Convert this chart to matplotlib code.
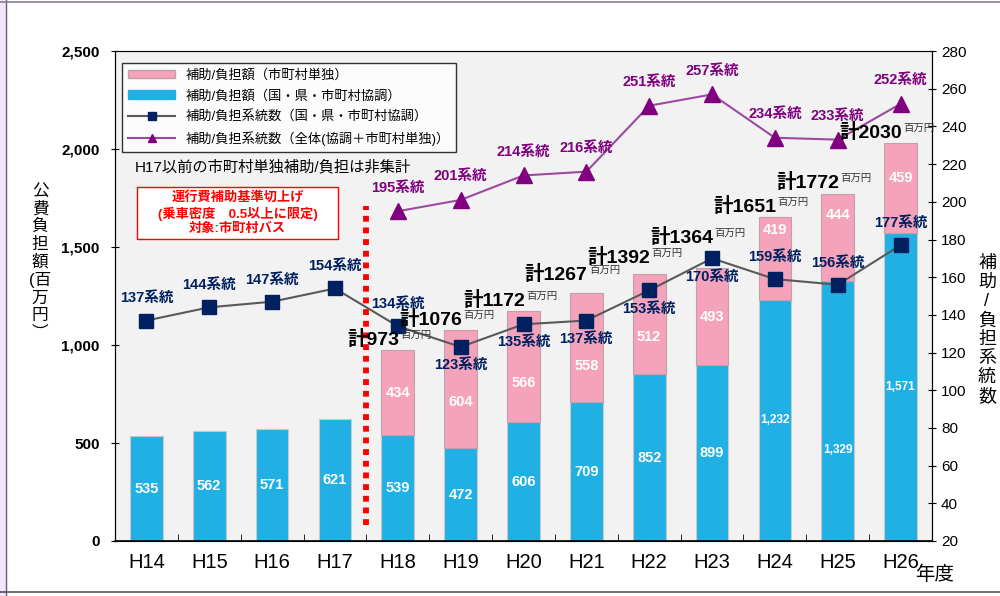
import matplotlib.pyplot as plt
import numpy as np
from matplotlib.lines import Line2D
from matplotlib.patches import Patch, Rectangle

plt.rcParams['font.family'] = ['Liberation Sans', 'Noto Sans CJK JP']

years = ['H14', 'H15', 'H16', 'H17', 'H18', 'H19', 'H20', 'H21', 'H22', 'H23', 'H24', 'H25', 'H26']
# 補助/負担額 (百万円)
kyocho = [535, 562, 571, 621, 539, 472, 606, 709, 852, 899, 1232, 1329, 1571]
tandoku = [0, 0, 0, 0, 434, 604, 566, 558, 512, 493, 419, 444, 459]
# 計 labels as printed (H18-H26)
total_labels = [973, 1076, 1172, 1267, 1392, 1364, 1651, 1772, 2030]
# 系統数
kyocho_routes = [137, 144, 147, 154, 134, 123, 135, 137, 153, 170, 159, 156, 177]
all_routes = [195, 201, 214, 216, 251, 257, 234, 233, 252]

BLUE = '#20b0e3'
PINK = '#f5a3ba'
NAVY = '#002060'
PURPLE = '#800080'

fig = plt.figure(figsize=(10, 5.96), dpi=100)
fig.patch.set_facecolor('white')
# frame decorations
fig.add_artist(Rectangle((0, 0), 0.006, 1, transform=fig.transFigure, color='#f1e6fa', zorder=0))
fig.add_artist(Line2D([0.006, 0.006], [0, 1], transform=fig.transFigure, color='#6e5a80', lw=1))
fig.add_artist(Line2D([0, 1], [0.996, 0.996], transform=fig.transFigure, color='#8a7a9a', lw=1.2))
fig.add_artist(Line2D([0, 1], [0.007, 0.007], transform=fig.transFigure, color='#555555', lw=1.2))

ax = fig.add_axes([0.115, 0.0923, 0.817, 0.822])
ax.set_facecolor('#f2f2f2')
x = np.arange(len(years))
w = 0.52

ax.bar(x, kyocho, w, color=BLUE, edgecolor='#c8c8c8', lw=0.8, zorder=2)
ax.bar(x[4:], tandoku[4:], w, bottom=kyocho[4:], color=PINK, edgecolor='#c0a0aa', lw=0.8, zorder=2)

ax.set_xlim(-0.5, len(years) - 0.5)
ax.set_ylim(0, 2500)
ax.set_yticks(np.arange(0, 2501, 500))
ax.set_yticklabels([f'{v:,}' for v in range(0, 2501, 500)], fontsize=11, fontweight='bold')
ax.set_xticks(x)
ax.set_xticklabels(years, fontsize=14.5, family=['Liberation Sans Narrow', 'Liberation Sans'])
ax.set_xticks(x[:-1] + 0.5, minor=True)
ax.tick_params(axis='x', which='major', length=0, pad=9)
ax.tick_params(axis='x', which='minor', direction='in', length=5)
ax.tick_params(axis='y', direction='inout', length=6, pad=8)
ax.spines['top'].set_color('#808080')
ax.spines['bottom'].set_linewidth(1.2)

# red dotted separator
ax.vlines(3.5, 80, 1710, color='red', lw=4.2, linestyles=(0, (1, 1)), zorder=3)

ax2 = ax.twinx()
ax2.set_ylim(20, 280)
ax2.set_yticks(np.arange(20, 281, 20))
ax2.tick_params(axis='y', direction='inout', length=6, labelsize=11)

ax2.plot(x, kyocho_routes, color='#595959', lw=1.5, marker='s', ms=10,
         mfc=NAVY, mec=NAVY, zorder=4)
ax2.plot(x[4:], all_routes, color='#9c4a9f', lw=1.5, marker='^', ms=11,
         mfc=PURPLE, mec=PURPLE, zorder=4)

# bar value labels (placed inside segments, nudged away from markers)
blue_frac = {11: 0.35}
pink_frac = {5: 0.39, 6: 0.35, 7: 0.33, 8: 0.37, 10: 0.85, 11: 0.75, 12: 0.61}
for i in x:
    v = kyocho[i]
    ax2.text(i, v * blue_frac.get(i, 0.5), f'{v:,}', transform=ax.transData,
             ha='center', va='center', color='white', fontweight='bold',
             fontsize=10.5 if v < 1000 else 8.5, zorder=6)
    if tandoku[i]:
        ax2.text(i, v + tandoku[i] * pink_frac.get(i, 0.5), str(tandoku[i]),
                 transform=ax.transData, ha='center', va='center', color='white',
                 fontweight='bold', fontsize=10.5, zorder=6)

# totals (H23 label sits higher, clear of the marker)
lift = {9: 14, 7: 5, 8: 4}
for k, t in enumerate(total_labels):
    i = k + 4
    top = kyocho[i] + tandoku[i]
    dy = 4 + lift.get(i, 0)
    ax2.annotate(f'計{t}', xy=(i + 0.02, top), xycoords=ax.transData, xytext=(0, dy),
                 textcoords='offset points', ha='right', va='baseline',
                 fontsize=14, fontweight='bold', color='black', zorder=7)
    ax2.annotate('百万円', xy=(i + 0.04, top), xycoords=ax.transData, xytext=(0, dy + 5),
                 textcoords='offset points', ha='left', va='baseline',
                 fontsize=7.5, color='#333333', zorder=7)

# route count labels
below = {5, 6, 7, 8, 9}
for i, r in zip(x, kyocho_routes):
    dy = -13 if i in below else 16
    ax2.annotate(f'{r}系統', xy=(i, r), xytext=(0, dy), textcoords='offset points',
                 ha='center', va='center', fontsize=10.5, fontweight='bold', color=NAVY, zorder=7)
for i, r in zip(x[4:], all_routes):
    ax2.annotate(f'{r}系統', xy=(i, r), xytext=(0, 17), textcoords='offset points',
                 ha='center', va='center', fontsize=10.5, fontweight='bold', color=PURPLE, zorder=7)

# legend
handles = [
    Patch(facecolor=PINK, edgecolor='#c0a0aa'),
    Patch(facecolor=BLUE, edgecolor=BLUE),
    Line2D([], [], color='#595959', lw=1.5, marker='s', ms=6, mfc=NAVY, mec=NAVY),
    Line2D([], [], color='#9c4a9f', lw=1.5, marker='^', ms=6, mfc=PURPLE, mec=PURPLE),
]
labels = ['補助/負担額（市町村単独）', '補助/負担額（国・県・市町村協調）',
          '補助/負担系統数（国・県・市町村協調）', '補助/負担系統数（全体(協調＋市町村単独)）']
leg = ax2.legend(handles, labels, loc='upper left', bbox_to_anchor=(0.0086, 0.975),
                 borderaxespad=0, fontsize=9.5, frameon=True, fancybox=False, edgecolor='black',
                 handlelength=3.6, handleheight=0.6, labelspacing=0.6, borderpad=0.45)
leg.get_frame().set_linewidth(1.0)
leg.set_zorder(8)

ax2.text(0.0245, 0.763, 'H17以前の市町村単独補助/負担は非集計', transform=ax.transAxes,
         ha='left', va='center', fontsize=11, color='black')

# red note box
ax2.add_patch(Rectangle((0.027, 0.616), 0.246, 0.106, transform=ax.transAxes,
                        facecolor='white', edgecolor='red', lw=1, zorder=5))
ax2.text(0.15, 0.669, '運行費補助基準切上げ\n(乗車密度　0.5以上に限定)\n対象:市町村バス',
         transform=ax.transAxes, ha='center', va='center', fontsize=9.5, fontweight='bold',
         color='red', linespacing=1.25, zorder=6)

# axis titles (vertical stacked)
fig.text(0.04, 0.56, '\n'.join(['公', '費', '負', '担', '額', '(百', '万', '円', '︶']),
         ha='center', va='center', fontsize=12, linespacing=1.2)
fig.text(0.987, 0.446, '\n'.join(['補', '助', '/', '負', '担', '系', '統', '数']),
         ha='center', va='center', fontsize=13, linespacing=1.15)
fig.text(0.935, 0.035, '年度', ha='center', va='center', fontsize=14)

fig.savefig('out.png', dpi=100)
